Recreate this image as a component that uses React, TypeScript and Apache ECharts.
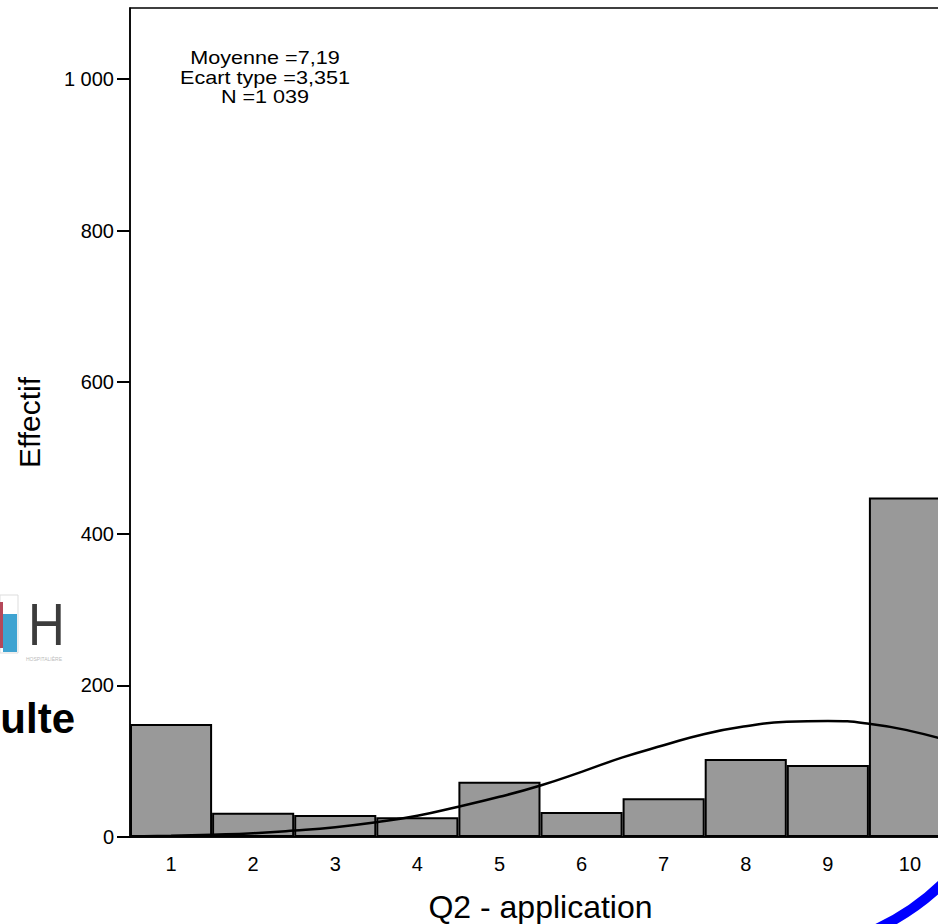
import React, { useEffect, useRef } from "react";
import * as echarts from "echarts";

const categories = ["1", "2", "3", "4", "5", "6", "7", "8", "9", "10"];
const counts = [149, 32, 29, 26, 73, 33, 51, 103, 95, 448];
const curveX = [0.5, 1, 1.5, 2, 2.5, 3, 3.5, 4, 4.5, 5, 5.5, 6, 6.5, 7, 7.5, 8, 8.5, 9, 9.5, 10, 10.5];
const curveY = [0.5, 1.5, 3, 5, 8.5, 13, 19.5, 28, 40, 53, 68, 86, 105, 121, 136, 146, 152, 153, 149.5, 140, 126];
const yTicks = [0, 200, 400, 600, 800, 1000];
const yTickLabels = ["0", "200", "400", "600", "800", "1 000"];
const statsLines = ["Moyenne =7,19", "Ecart type =3,351", "N =1 039"];
const xTitle = "Q2 - application";
const yTitle = "Effectif";

const FONT = '"Liberation Sans", Arial, sans-serif';

export default function App() {
  const ref = useRef<HTMLDivElement>(null);
  useEffect(() => {
    if (!ref.current) return;
    const chart = echarts.init(ref.current, undefined, { renderer: "svg" });
    const statsGraphics = statsLines.map((line, i) => ({
      type: "text",
      x: 265,
      y: 58 + i * 19.5,
      z: 10,
      scaleX: 1.2,
      style: {
        text: line,
        textAlign: "center",
        textVerticalAlign: "middle",
        font: `18px ${FONT}`,
        fill: "#000",
      },
    }));
    const option: any = {
      animation: false,
      backgroundColor: "#ffffff",
      grid: {
        left: 130,
        top: 8,
        width: 821,
        height: 829,
        show: true,
        borderColor: "#000",
        borderWidth: 1.5,
        backgroundColor: "transparent",
        outerBoundsMode: "none",
        containLabel: false,
      },
      xAxis: [
        {
          type: "category",
          data: categories,
          boundaryGap: true,
          axisLine: { lineStyle: { color: "#000", width: 1.5 } },
          axisTick: { alignWithLabel: true, length: 9, lineStyle: { color: "#000", width: 2 } },
          axisLabel: { color: "#000", fontSize: 20, fontFamily: FONT, margin: 17 },
          splitLine: { show: false },
          name: xTitle,
          nameLocation: "middle",
          nameGap: 55,
          nameTextStyle: { color: "#000", fontSize: 32, lineHeight: 30, fontFamily: FONT },
        },
        { type: "value", min: 0.5, max: 10.5, show: false },
      ],
      yAxis: {
        type: "value",
        min: 0,
        max: 1093.7,
        axisLine: { show: true, lineStyle: { color: "#000", width: 1.5 } },
        axisTick: { show: true, length: 13, customValues: yTicks, lineStyle: { color: "#000", width: 2 } },
        axisLabel: {
          customValues: yTicks,
          color: "#000",
          fontSize: 20,
          fontFamily: FONT,
          margin: 16,
          formatter: (v: number) => {
            const i = yTicks.indexOf(v);
            return i >= 0 ? yTickLabels[i] : "";
          },
        },
        splitLine: { show: false },
        name: yTitle,
        nameLocation: "middle",
        nameGap: 86,
        nameTextStyle: { color: "#000", fontSize: 30, fontFamily: FONT },
      },
      series: [
        {
          type: "bar",
          xAxisIndex: 0,
          data: counts,
          barCategoryGap: "0%",
          itemStyle: { color: "#999999", borderColor: "#000", borderWidth: 2 },
        },
        {
          type: "line",
          xAxisIndex: 1,
          data: curveX.map((x, i) => [x, curveY[i]]),
          smooth: true,
          showSymbol: false,
          lineStyle: { color: "#000", width: 2.5 },
          z: 5,
        },
      ],
      graphic: [
        ...statsGraphics,
        {
          type: "text",
          x: 75,
          y: 718,
          style: {
            text: "ulte",
            textAlign: "right",
            textVerticalAlign: "middle",
            font: `bold 42px ${FONT}`,
            fill: "#000",
          },
        },
        {
          type: "rect",
          shape: { x: 0, y: 595, width: 18, height: 58 },
          style: { fill: "none", stroke: "#dddddd", lineWidth: 1 },
        },
        { type: "rect", shape: { x: 0, y: 602, width: 3, height: 46 }, style: { fill: "#b5485a" } },
        { type: "rect", shape: { x: 3, y: 614, width: 14, height: 38 }, style: { fill: "#3fa3d1" } },
        {
          type: "text",
          x: 28,
          y: 625,
          scaleX: 0.85,
          style: {
            text: "H",
            textAlign: "left",
            textVerticalAlign: "middle",
            font: `60px ${FONT}`,
            fill: "#3c3c3c",
          },
        },
        {
          type: "text",
          x: 62,
          y: 659,
          style: {
            text: "HOSPITALIÈRE",
            textAlign: "right",
            textVerticalAlign: "middle",
            font: `5px ${FONT}`,
            fill: "#bbbbbb",
          },
        },
        {
          type: "bezierCurve",
          shape: { x1: 870, y1: 932, x2: 946, y2: 880, cpx1: 915, cpy1: 912 },
          style: { stroke: "#0000ff", lineWidth: 10, fill: "none" },
        },
      ],
    };
    chart.setOption(option);
    return () => chart.dispose();
  }, []);
  return (
    <div
      style={{
        position: "absolute",
        left: 0,
        top: 0,
        width: 938,
        height: 924,
        overflow: "hidden",
        background: "#fff",
      }}
    >
      <div ref={ref} style={{ width: 960, height: 924 }} />
    </div>
  );
}
